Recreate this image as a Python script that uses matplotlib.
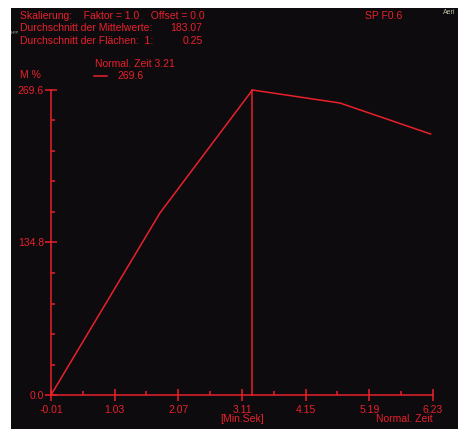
import matplotlib

matplotlib.use("Agg")
import matplotlib.pyplot as plt
from matplotlib.patches import Rectangle

# curve (Normal. Zeit vs M %)
zeit = [-0.01, 1.77, 3.28, 4.71, 6.19]
m_pct = [0.0, 160.9, 269.6, 258.1, 230.7]
cursor_x = 3.28
cursor_y = 269.6

x_ticks = [-0.01, 1.03, 2.07, 3.11, 4.15, 5.19, 6.23]
x_labels = ["-0.01", "1.03", "2.07", "3.11", "4.15", "5.19", "6.23"]
y_ticks = [0.0, 134.8, 269.6]
y_labels = ["0.0", "134.8", "269.6"]

RED = "#e8212b"
BG = "#0e0b0f"
W, H = 458, 430

plt.rcParams["font.family"] = ["Liberation Sans", "DejaVu Sans"]

fig = plt.figure(figsize=(W / 100, H / 100), dpi=100, facecolor="white")
fig.patches.append(Rectangle((11 / W, 1 / H), 1 - 11 / W, 421 / H,
                             transform=fig.transFigure, facecolor=BG,
                             edgecolor="none", zorder=-5))


def px(x, y):
    return x / W, 1 - y / H


ax = fig.add_axes([51 / W, 35 / H, 382 / W, 305 / H])
ax.set_facecolor("none")
ax.plot(zeit, m_pct, color=RED, lw=1.1, clip_on=False)
ax.plot([cursor_x, cursor_x], [0, cursor_y], color=RED, lw=1.1, clip_on=False)
ax.set_xlim(x_ticks[0], x_ticks[-1])
ax.set_ylim(0, 269.6)
for s in ("top", "right"):
    ax.spines[s].set_visible(False)
for s in ("left", "bottom"):
    ax.spines[s].set_color(RED)
    ax.spines[s].set_linewidth(1.1)
ax.set_xticks(x_ticks)
ax.set_xticklabels(x_labels)
ax.set_xticks([(a + b) / 2 for a, b in zip(x_ticks[:-1], x_ticks[1:])], minor=True)
ax.set_yticks(y_ticks)
ax.set_yticklabels(y_labels)
ax.set_yticks([26.96 * i for i in range(1, 10) if i != 5], minor=True)
ax.tick_params(which="major", direction="inout", length=8, width=1.1,
               color=RED, labelcolor=RED, labelsize=7.5)
ax.tick_params(axis="x", which="major", pad=3)
ax.tick_params(axis="y", which="major", pad=1)
ax.tick_params(which="minor", direction="in", length=3, width=1.1, color=RED)

txt = dict(color=RED, fontsize=7.5, va="center")
fig.text(*px(20, 16), "Skalierung:    Faktor = 1.0    Offset = 0.0", **txt)
fig.text(*px(20, 28), "Durchschnitt der Mittelwerte:", **txt)
fig.text(*px(170, 28), "183.07", **txt)
fig.text(*px(20, 41), "Durchschnitt der Flächen:  1:", **txt)
fig.text(*px(183, 41), "0.25", **txt)
fig.text(*px(11, 33), "HFP", color="#b8c0a8", fontsize=3, va="center")
fig.text(*px(365, 16), "SP F0.6", **txt)
fig.text(*px(443, 12), "Aeri", color="#b8c0a8", fontsize=5, va="center")
fig.text(*px(95, 64), "Normal. Zeit 3.21", **txt)
fig.lines.append(plt.Line2D([94 / W, 107 / W], [1 - 76 / H, 1 - 76 / H],
                            transform=fig.transFigure, color=RED, lw=1.1))
fig.text(*px(117, 76), "269.6", **txt)
fig.text(*px(20, 75), "M %", **txt)
fig.text(*px(242, 419), "[Min.Sek]", ha="center", **txt)
fig.text(*px(433, 419), "Normal. Zeit", ha="right", **txt)

fig.savefig("out.png", dpi=100, facecolor="white")
plt.close(fig)
